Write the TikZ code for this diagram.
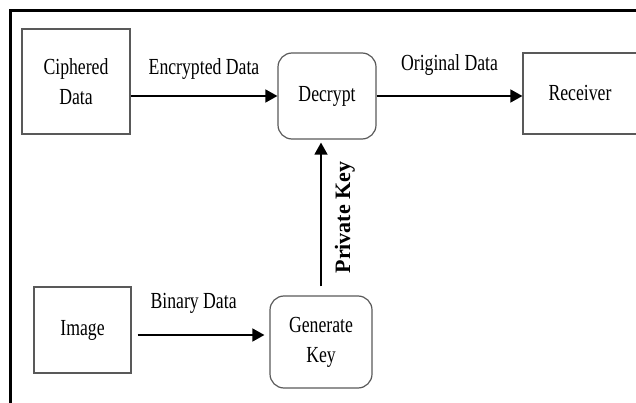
\documentclass[tikz,border=0pt]{standalone}
\usepackage{fontspec}
\setmainfont{Liberation Serif}
\newfontfamily\narrowserif[FakeStretch=0.77]{Liberation Serif}
\usetikzlibrary{arrows.meta,positioning,calc}

\begin{document}
\begin{tikzpicture}[
  x=1pt, y=-1pt,
  every node/.style={font=\narrowserif\fontsize{23}{30}\selectfont},
  box/.style={rectangle, draw=black!65, line width=1.2pt, align=center, inner sep=0pt},
  rbox/.style={box, rounded corners=14pt},
  arr/.style={-{Triangle[length=12pt, width=13pt]}, line width=1.5pt},
  lbl/.style={inner sep=2pt},
  frame/.style={line width=3pt},
]

\useasboundingbox (0,0) rectangle (636,403);
\clip (0,0) rectangle (636,403);

\draw[frame] (10.5,403) -- (10.5,11) -- (636,11);

\node[box, minimum width=108pt, minimum height=105pt] (cipher) at (76,81.5) {Ciphered\\Data};
\node[rbox, minimum width=98pt, minimum height=86pt] (decrypt) at (327,96) {Decrypt};
\node[box, minimum width=114pt, minimum height=81pt] (receiver) at (580,93.5) {Receiver};
\node[box, minimum width=97pt, minimum height=86pt] (image) at (82.5,330) {Image};
\node[rbox, minimum width=102pt, minimum height=92pt] (genkey) at (321,342) {Generate\\Key};

\draw[arr] (cipher.east |- decrypt.west) -- node[lbl, above=14pt] {Encrypted Data} (decrypt.west);
\draw[arr] (decrypt.east) -- node[lbl, above=18pt] {Original Data} (decrypt.east -| receiver.west);
\draw[arr, shorten <=6pt, shorten >=5pt] ([yshift=-5pt]image.east) -- node[lbl, pos=0.45, above=19pt] {Binary Data} ([yshift=-5pt]image.east -| genkey.west);
\draw[arr, shorten <=9pt, shorten >=3pt] (genkey.north) -- node[lbl, midway, rotate=90, anchor=north, inner sep=13pt, font=\bfseries\fontsize{22}{26}\selectfont] {Private Key} (genkey.north |- decrypt.south);

\end{tikzpicture}
\end{document}
